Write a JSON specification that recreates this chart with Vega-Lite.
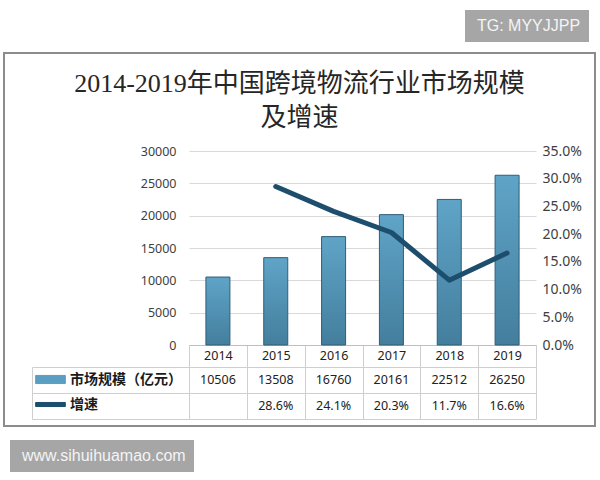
{
  "$schema": "https://vega.github.io/schema/vega-lite/v6.json",
  "width": 591,
  "height": 373,
  "autosize": {"type": "none"},
  "padding": {"left": 4, "top": 53, "right": 5, "bottom": 54},
  "background": "white",
  "config": {
    "view": {"stroke": "#8c8c8c", "strokeWidth": 2},
    "axis": {"labelFont": "Noto Sans", "labelColor": "#404040", "labelFontSize": 12.5},
    "axisX": {
      "orient": "bottom",
      "offset": -81,
      "title": null,
      "labelAngle": 0,
      "domain": true,
      "domainColor": "#bfbfbf",
      "domainWidth": 1,
      "ticks": true,
      "tickBand": "extent",
      "tickSize": 74,
      "tickColor": "#cfcfcf",
      "labelBaseline": "middle",
      "labelPadding": -64,
      "labelColor": "#222222",
      "grid": false
    },
    "legend": {"labelFont": "Noto Sans CJK SC"}
  },
  "title": {
    "text": ["2014-2019年中国跨境物流行业市场规模", "及增速"],
    "anchor": "middle",
    "frame": "group",
    "offset": -121,
    "font": "'Liberation Serif', 'Noto Sans CJK SC'",
    "fontSize": 26,
    "fontWeight": "normal",
    "color": "#262626",
    "lineHeight": 34
  },
  "data": {
    "values": [
      {"year": "2014", "size": 10506, "growth": null},
      {"year": "2015", "size": 13508, "growth": 0.286},
      {"year": "2016", "size": 16760, "growth": 0.241},
      {"year": "2017", "size": 20161, "growth": 0.203},
      {"year": "2018", "size": 22512, "growth": 0.117},
      {"year": "2019", "size": 26250, "growth": 0.166}
    ]
  },
  "layer": [
    {
      "mark": {
        "type": "bar",
        "width": {"band": 0.415},
        "stroke": "#2f5e78",
        "strokeWidth": 1,
        "fill": {
          "x1": 0, "y1": 0, "x2": 0, "y2": 1,
          "gradient": "linear",
          "stops": [
            {"offset": 0, "color": "#5fa4c7"},
            {"offset": 1, "color": "#447e9d"}
          ]
        }
      },
      "encoding": {
        "x": {
          "field": "year",
          "type": "ordinal",
          "title": null,
          "scale": {"range": [185, 532], "paddingInner": 0, "paddingOuter": 0}
        },
        "y": {
          "field": "size",
          "type": "quantitative",
          "scale": {"domain": [0, 30000], "range": [292, 98], "nice": false},
          "axis": {
            "orient": "left",
            "offset": -185,
            "title": null,
            "format": "d",
            "values": [0, 5000, 10000, 15000, 20000, 25000, 30000],
            "domain": false,
            "ticks": false,
            "labelPadding": 13,
            "grid": true,
            "gridColor": "#d9d9d9",
            "gridWidth": 1
          }
        },
        "opacity": {
          "datum": "TG: MYYJJPP",
          "type": "nominal",
          "scale": {"type": "ordinal", "range": [1]},
          "legend": {
            "orient": "none",
            "legendX": 461,
            "legendY": -43,
            "title": null,
            "fillColor": "#a6a6a6",
            "padding": 8,
            "symbolSize": 0,
            "symbolOpacity": 0,
            "symbolStrokeWidth": 0,
            "labelOffset": -12,
            "labelFont": "Liberation Sans",
            "labelFontSize": 16,
            "labelColor": "#f4f4f4"
          }
        }
      }
    },
    {
      "mark": {"type": "line", "strokeWidth": 5, "strokeCap": "round", "strokeJoin": "round"},
      "encoding": {
        "x": {"field": "year", "type": "ordinal", "title": null},
        "y": {
          "field": "growth",
          "type": "quantitative",
          "scale": {"domain": [0, 0.35], "range": [292, 98], "nice": false},
          "axis": {
            "orient": "right",
            "offset": -59,
            "title": null,
            "values": [0, 0.05, 0.1, 0.15, 0.2, 0.25, 0.3, 0.35],
            "format": ".1%",
            "domain": false,
            "ticks": false,
            "grid": false,
            "labelPadding": 6,
            "labelFontSize": 14
          }
        },
        "color": {
          "datum": "增速",
          "type": "nominal",
          "scale": {"domain": ["市场规模（亿元）", "增速"], "range": ["#5a9ec2", "#1d4e6d"]},
          "legend": {
            "orient": "none",
            "legendX": 32.5,
            "legendY": 312.5,
            "direction": "vertical",
            "title": null,
            "padding": 0,
            "rowPadding": 4,
            "symbolSize": 729,
            "labelOffset": 5.5,
            "labelFontSize": 14,
            "labelFontWeight": "bold",
            "labelColor": "#1a1a1a",
            "labelLimit": 200,
            "encode": {
              "symbols": {
                "update": {
                  "shape": {"signal": "datum.value === '增速' ? 'M-1.1,-0.15H1.1V0.15H-1.1Z' : 'M-1.1,-0.3H1.1V0.3H-1.1Z'"},
                  "fill": {"signal": "datum.value === '增速' ? '#1d4e6d' : '#5a9ec2'"},
                  "stroke": {"signal": "datum.value === '增速' ? '#1d4e6d' : '#2f5e78'"},
                  "strokeWidth": {"value": 1},
                  "opacity": {"value": 1}
                }
              }
            }
          }
        }
      }
    },
    {
      "layer": [
        {
          "mark": {"type": "text", "font": "Noto Sans", "color": "#222222", "baseline": "middle"},
          "encoding": {
            "x": {"field": "year", "type": "ordinal", "title": null},
            "y": {
              "datum": "市场规模（亿元）",
              "type": "nominal",
              "scale": {"type": "band", "domain": ["市场规模（亿元）", "增速"], "range": [314, 366], "paddingInner": 0, "paddingOuter": 0},
              "axis": {
                "orient": "left",
                "offset": -28,
                "title": null,
                "labels": false,
                "grid": false,
                "domain": true,
                "domainColor": "#cfcfcf",
                "ticks": true,
                "tickBand": "extent",
                "tickSize": -504,
                "tickColor": "#cfcfcf"
              }
            },
            "text": {"field": "size", "type": "quantitative", "format": "d"},
            "size": {
              "datum": "www.sihuihuamao.com",
              "type": "nominal",
              "scale": {"type": "ordinal", "range": [12.5]},
              "legend": {
                "orient": "none",
                "legendX": 6,
                "legendY": 387,
                "title": null,
                "fillColor": "#a6a6a6",
                "padding": 8,
                "symbolSize": 0,
                "symbolOpacity": 0,
                "symbolStrokeWidth": 0,
                "labelOffset": -12,
                "labelFont": "Liberation Sans",
                "labelFontSize": 16,
                "labelColor": "#f4f4f4",
                "labelLimit": 300
              }
            }
          }
        },
        {
          "transform": [{"filter": "isValid(datum.growth)"}],
          "mark": {"type": "text", "font": "Noto Sans", "fontSize": 12.5, "color": "#222222", "baseline": "middle"},
          "encoding": {
            "x": {"field": "year", "type": "ordinal", "title": null},
            "y": {"datum": "增速", "type": "nominal"},
            "text": {"field": "growth", "type": "quantitative", "format": ".1%"}
          }
        }
      ]
    }
  ],
  "resolve": {"scale": {"y": "independent"}}
}
